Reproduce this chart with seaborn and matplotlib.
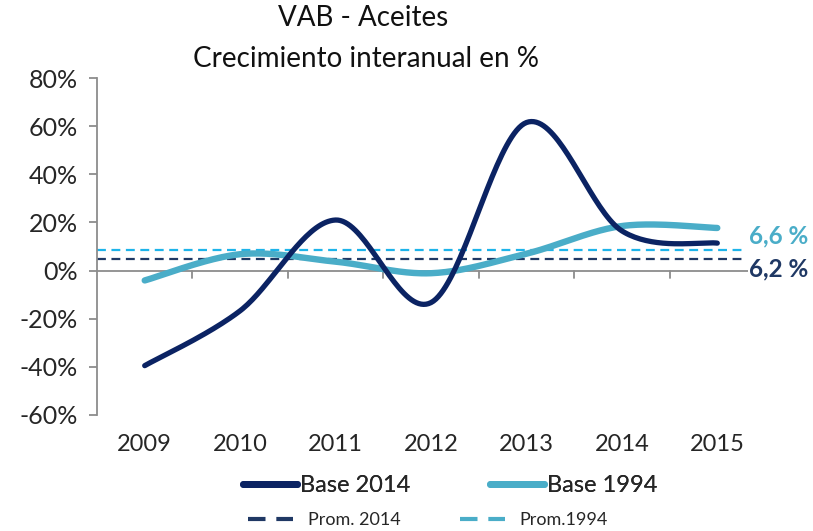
import numpy as np
import pandas as pd
import matplotlib
matplotlib.use("Agg")
import matplotlib.pyplot as plt
import seaborn as sns
from matplotlib.lines import Line2D

years = ["2009", "2010", "2011", "2012", "2013", "2014", "2015"]
base_2014 = [-39.5, -16.7, 21.0, -13.3, 61.5, 16.5, 11.4]
base_1994 = [-4.1, 6.8, 3.7, -1.1, 7.0, 18.5, 17.7]
prom_2014 = 4.8
prom_1994 = 8.7
prom_2014_label = "6,2 %"
prom_1994_label = "6,6 %"
yticks = [-60, -40, -20, 0, 20, 40, 60, 80]

NAVY = "#0b2363"
LIGHT = "#4aadc8"
DASH_NAVY = "#1f3864"
DASH_LIGHT = "#1db4ea"

sns.set_theme(style="white")
plt.rcParams["font.family"] = ["Lato", "DejaVu Sans"]


def smooth(xs, ys, n=40):
    # Excel-style smoothed line (Catmull-Rom Bezier)
    P = np.column_stack([xs, ys]).astype(float)
    P_ext = np.vstack([P[0], P, P[-1]])
    out = []
    for i in range(len(P) - 1):
        p0, p1, p2, p3 = P_ext[i], P_ext[i + 1], P_ext[i + 2], P_ext[i + 3]
        c1 = p1 + (p2 - p0) / 6.0
        c2 = p2 - (p3 - p1) / 6.0
        t = np.linspace(0, 1, n)[:, None]
        seg = ((1 - t) ** 3) * p1 + 3 * ((1 - t) ** 2) * t * c1 + 3 * (1 - t) * t ** 2 * c2 + t ** 3 * p2
        out.append(seg if i == 0 else seg[1:])
    arr = np.vstack(out)
    return arr[:, 0], arr[:, 1]


x = np.arange(len(years))
fig = plt.figure(figsize=(8.13, 5.31), dpi=100)
ax = fig.add_axes([97 / 813, 1 - 415 / 531, (765 - 97) / 813, (415 - 78) / 531])

sx, sy = smooth(x, base_2014)
df1 = pd.DataFrame({"x": sx, "y": sy})
sns.lineplot(data=df1, x="x", y="y", ax=ax, color=NAVY, lw=3.8, sort=False,
             solid_capstyle="round", zorder=4)
sx2, sy2 = smooth(x, base_1994)
df2 = pd.DataFrame({"x": sx2, "y": sy2})
sns.lineplot(data=df2, x="x", y="y", ax=ax, color=LIGHT, lw=4.6, sort=False,
             solid_capstyle="round", zorder=3)

ax.plot([-0.5, 6.27], [prom_1994, prom_1994], color=DASH_LIGHT, lw=1.6,
        dashes=(4, 2.5), zorder=2)
ax.plot([-0.5, 6.27], [prom_2014, prom_2014], color=DASH_NAVY, lw=1.6,
        dashes=(4, 2.5), zorder=2)

ax.axhline(0, color="#8c8c8c", lw=1.3, zorder=1)
for b in np.arange(0.5, len(years) - 0.5, 1.0):
    ax.plot([b, b], [0, -3], color="#8c8c8c", lw=1.3, zorder=1)

ax.set_xlim(-0.5, 6.5)
ax.set_ylim(-60, 80)
ax.set_yticks(yticks)
ax.set_yticklabels([f"{v}%" for v in yticks])
ax.set_xticks(x)
ax.set_xticklabels(years)
ax.set_xlabel("")
ax.set_ylabel("")
for s in ["top", "right", "bottom"]:
    ax.spines[s].set_visible(False)
ax.spines["left"].set_color("#8c8c8c")
ax.spines["left"].set_linewidth(1.3)
ax.tick_params(axis="y", left=True, length=6, width=1.3, color="#8c8c8c",
               labelsize=18, labelcolor="#262626", pad=8)
ax.tick_params(axis="x", bottom=False, length=0, labelsize=17,
               labelcolor="#262626", pad=14)

ax.text(6.33, prom_1994 + 5.5, prom_1994_label, color=LIGHT, fontsize=17.5,
        fontweight="bold", ha="left", va="center", zorder=6,
        bbox=dict(facecolor="white", edgecolor="none", pad=0.5))
ax.text(6.33, 0.5, prom_2014_label, color=DASH_NAVY, fontsize=17.5,
        fontweight="bold", ha="left", va="center", zorder=6,
        bbox=dict(facecolor="white", edgecolor="none", pad=0.5))
for t in ax.texts:
    t.set_clip_on(False)

fig.text(363 / 813, 1 - 18 / 531, "VAB - Aceites", ha="center", va="center",
         fontsize=20, color="#111111")
fig.text(366 / 813, 1 - 59 / 531, "Crecimiento interanual en %", ha="center",
         va="center", fontsize=20, color="#111111")

h1 = [Line2D([], [], color=NAVY, lw=5, solid_capstyle="round"),
      Line2D([], [], color=LIGHT, lw=5, solid_capstyle="round")]
leg1 = fig.legend(h1, ["Base 2014", "Base 1994"], ncol=2, frameon=False,
                  loc="center", bbox_to_anchor=(450 / 813, 1 - 486 / 531),
                  fontsize=17, handlelength=2.3, handletextpad=0.1,
                  columnspacing=3.4, labelcolor="#262626")
h2 = [Line2D([], [], color=DASH_NAVY, lw=3, dashes=(4.2, 2.6)),
      Line2D([], [], color=LIGHT, lw=3, dashes=(4.2, 2.6))]
leg2 = fig.legend(h2, ["Prom. 2014", "Prom.1994"], ncol=2, frameon=False,
                  loc="center", bbox_to_anchor=(428 / 813, 1 - 520 / 531),
                  fontsize=13, handlelength=2.5, handletextpad=0.8,
                  columnspacing=3.3, labelcolor="#262626")
fig.add_artist(leg1)

fig.savefig("out.png", dpi=100, facecolor="white")
